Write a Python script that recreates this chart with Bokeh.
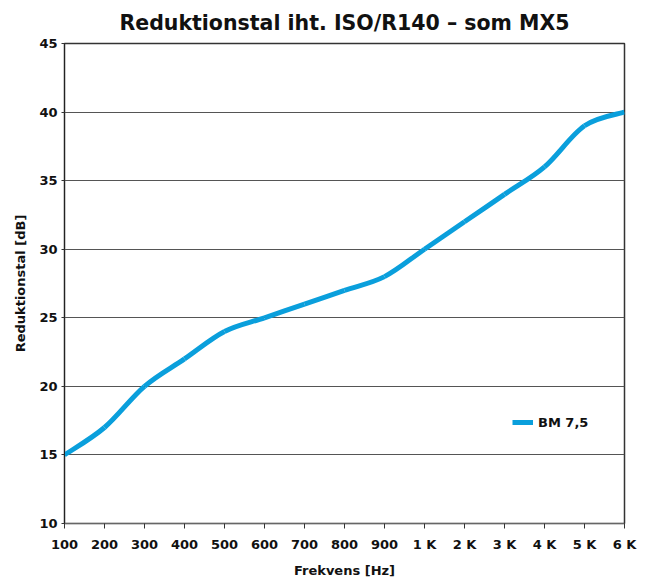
from bokeh.plotting import figure
from bokeh.models import Range1d, FixedTicker, Legend, LegendItem
from bokeh.embed import file_html
from bokeh.resources import INLINE

categories = ["100", "200", "300", "400", "500", "600", "700", "800", "900",
              "1 K", "2 K", "3 K", "4 K", "5 K", "6 K"]
bm75 = [15, 17, 20, 22, 24, 25, 26, 27, 28, 30, 32, 34, 36, 39, 40]
y_ticks = [10, 15, 20, 25, 30, 35, 40, 45]

FONT = "DejaVu Sans"
LINE_COLOR = "#0A9FDC"

xs = list(range(len(categories)))

p = figure(frame_width=560, frame_height=480, output_backend="svg",
           toolbar_location=None,
           x_range=Range1d(0, len(categories) - 1), y_range=Range1d(10, 45),
           min_border_left=64, min_border_right=22, min_border_top=43,
           min_border_bottom=53)

p.title.text = "Reduktionstal iht. ISO/R140 \u2013 som MX5"
p.title.align = "center"
p.title.text_font = FONT
p.title.text_font_size = "20.5px"
p.title.text_font_style = "bold"
p.title.text_color = "#111111"
p.title.standoff = 17

# smooth curve (Catmull-Rom style) built from the data as bezier segments
x0, y0, x1, y1, cx0, cy0, cx1, cy1 = [], [], [], [], [], [], [], []
n = len(xs)
for i in range(n - 1):
    pa = (xs[max(i - 1, 0)], bm75[max(i - 1, 0)])
    pb = (xs[i], bm75[i])
    pc = (xs[i + 1], bm75[i + 1])
    pd = (xs[min(i + 2, n - 1)], bm75[min(i + 2, n - 1)])
    x0.append(pb[0]); y0.append(pb[1])
    x1.append(pc[0]); y1.append(pc[1])
    cx0.append(pb[0] + (pc[0] - pa[0]) / 6); cy0.append(pb[1] + (pc[1] - pa[1]) / 6)
    cx1.append(pc[0] - (pd[0] - pb[0]) / 6); cy1.append(pc[1] - (pd[1] - pb[1]) / 6)

r = p.bezier(x0=x0, y0=y0, x1=x1, y1=y1, cx0=cx0, cy0=cy0, cx1=cx1, cy1=cy1,
             line_color=LINE_COLOR, line_width=5)

legend = Legend(items=[LegendItem(label="BM 7,5", renderers=[r])],
                location=(448, 91), border_line_color=None,
                background_fill_alpha=0, padding=0, margin=0,
                glyph_width=21, glyph_height=20, label_height=20,
                label_text_font=FONT, label_text_font_style="bold",
                label_text_font_size="13px", label_standoff=5,
                label_text_color="#111111")
p.add_layout(legend, "center")

p.xaxis.ticker = FixedTicker(ticks=xs)
p.xaxis.major_label_overrides = {i: c for i, c in enumerate(categories)}
p.yaxis.ticker = FixedTicker(ticks=y_ticks)
p.xaxis.minor_tick_line_color = None
p.yaxis.minor_tick_line_color = None

for ax in (p.xaxis, p.yaxis):
    ax.major_label_text_font = FONT
    ax.major_label_text_font_style = "bold"
    ax.major_label_text_font_size = "13px"
    ax.major_label_text_color = "#111111"
    ax.axis_label_text_font = FONT
    ax.axis_label_text_font_style = "bold"
    ax.axis_label_text_color = "#111111"
    ax.major_tick_in = 0

p.xaxis.axis_label = "Frekvens [Hz]"
p.yaxis.axis_label = "Reduktionstal [dB]"
p.xaxis.axis_label_text_font_size = "13px"
p.yaxis.axis_label_text_font_size = "13px"
p.xaxis.major_tick_out = 5
p.yaxis.major_tick_out = 3
p.xaxis.major_label_standoff = 8
p.yaxis.major_label_standoff = 4
p.xaxis.axis_label_standoff = 8
p.yaxis.axis_label_standoff = 8
p.xaxis.axis_line_color = "#666666"
p.xaxis.major_tick_line_color = "#333333"
p.yaxis.axis_line_color = "#222222"
p.yaxis.major_tick_line_color = "#333333"

p.xgrid.grid_line_color = None
p.ygrid.grid_line_color = "#555555"
p.ygrid.grid_line_width = 1
p.outline_line_color = "#333333"
p.outline_line_width = 1.5

open("out.html", "w").write(file_html(p, INLINE))
